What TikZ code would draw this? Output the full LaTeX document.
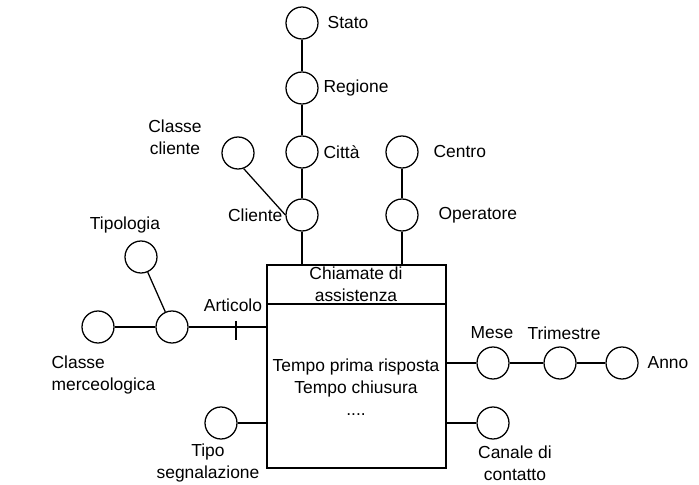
\documentclass[tikz,border=0pt]{standalone}
\usepackage{fontspec}
\setmainfont{Liberation Sans}
\usepackage{tikz}

\begin{document}
\begin{tikzpicture}[line width=0.9pt,
		attr/.style={draw, circle, minimum size=0.8cm, inner sep=0pt},
		lbl/.style={inner sep=0pt, font=\fontsize{12.4}{15.6}\selectfont, align=center}]
		\useasboundingbox (0,0) rectangle (17.475,12.1);
		
		% Fact box
		\node[draw, rectangle, minimum width=4.475cm, minimum height=5.075cm, inner sep=0pt] (ch) at (8.9125,2.9375) {};
		\node[draw, rectangle, minimum width=4.475cm, minimum height=0.975cm, inner sep=0pt] (tit) at (8.9125,4.9875) {};
		\node[lbl] (titlbl) at (8.9,5.0) {Chiamate di\\assistenza};
		\node[lbl] (body) at (8.9,2.425) {Tempo prima risposta\\Tempo chiusura\\....};
		
		% Attributes
		\node[attr] (st) at (7.55,11.525) {};
		\node[attr] (rg) at (7.55,9.9) {};
		\node[attr] (ct) at (7.55,8.3) {};
		\node[attr] (cl) at (7.55,6.725) {};
		\node[attr] (cc) at (5.95,8.275) {};
		\node[attr] (ce) at (10.05,8.3) {};
		\node[attr] (op) at (10.05,6.725) {};
		\node[attr] (tp) at (3.525,5.675) {};
		\node[attr] (ar) at (4.3,3.925) {};
		\node[attr] (cm) at (2.45,3.925) {};
		\node[attr] (me) at (12.325,3.025) {};
		\node[attr] (tr) at (14.0,3.025) {};
		\node[attr] (an) at (15.55,3.025) {};
		\node[attr] (ts) at (5.525,1.525) {};
		\node[attr] (cn) at (12.325,1.525) {};
		
		% Labels
		\node[lbl, anchor=west] (stl) at (8.175,11.525) {Stato};
		\node[lbl, anchor=west] (rgl) at (8.075,9.9) {Regione};
		\node[lbl, anchor=west] (ctl) at (8.075,8.3) {Città};
		\node[lbl, anchor=east] (cll) at (7.075,6.725) {Cliente};
		\node[lbl] (ccl) at (4.375,8.675) {Classe\\cliente};
		\node[lbl, anchor=west] (cel) at (10.825,8.3) {Centro};
		\node[lbl, anchor=west] (opl) at (10.95,6.725) {Operatore};
		\node[lbl] (tpl) at (3.125,6.475) {Tipologia};
		\node[lbl] (arl) at (5.825,4.475) {Articolo};
		\node[lbl, anchor=west, align=left] (cml) at (1.275,2.725) {Classe\\merceologica};
		\node[lbl] (mel) at (12.3,3.775) {Mese};
		\node[lbl] (trl) at (14.1,3.775) {Trimestre};
		\node[lbl, anchor=west] (anl) at (16.175,3.025) {Anno};
		\node[lbl] (tsl) at (5.2,0.525) {Tipo\\segnalazione};
		\node[lbl] (cnl) at (12.875,0.525) {Canale di\\contatto};
		
		% Hierarchies
		\draw (st) -- (rg);
		\draw (rg) -- (ct);
		\draw (ct) -- (cl);
		\draw (cl) -- (cl |- ch.north);
		\draw (cc.-70) -- (cl.west);
		\draw (ce) -- (op);
		\draw (op) -- (op |- ch.north);
		\draw (tp) -- (ar);
		\draw (cm) -- (ar);
		\draw (ar) -- coordinate[pos=0.61] (tk) (ar -| ch.west);
		\draw ([yshift=0.15cm]tk) -- ([yshift=-0.325cm]tk);
		\draw (me -| ch.east) -- (me);
		\draw (me) -- (tr);
		\draw (tr) -- (an);
		\draw (ts) -- (ts -| ch.west);
		\draw (cn -| ch.east) -- (cn);
	\end{tikzpicture}
\end{document}
